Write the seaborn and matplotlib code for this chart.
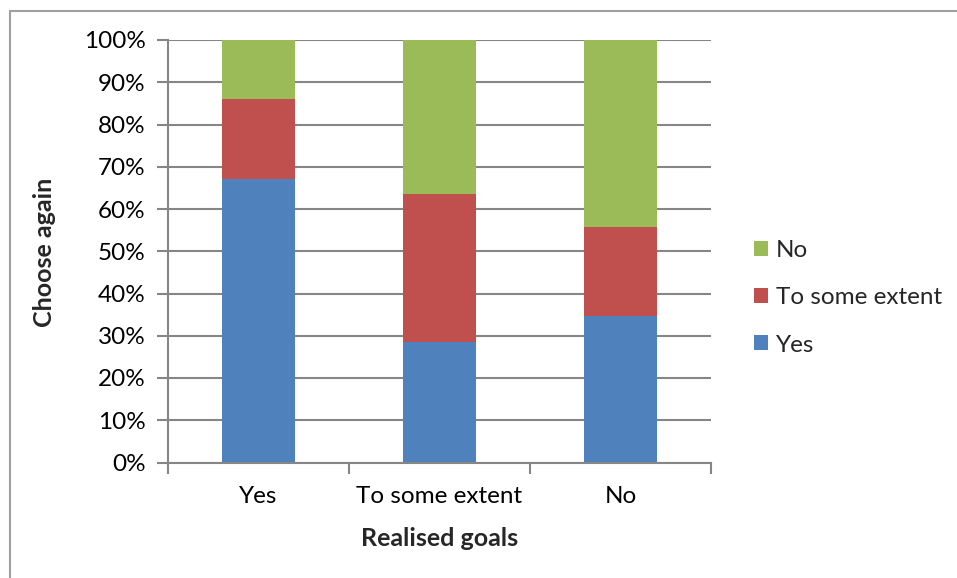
import matplotlib
matplotlib.use("Agg")
import matplotlib.pyplot as plt
import seaborn as sns
import numpy as np
import pandas as pd
from matplotlib.patches import Patch
from matplotlib.lines import Line2D
from matplotlib.ticker import PercentFormatter, FixedLocator

# ---- data ----
categories = ["Yes", "To some extent", "No"]
series_names = ["Yes", "To some extent", "No"]
yes_vals = [67.0, 28.6, 34.6]
some_vals = [19.1, 35.0, 21.2]
no_vals = [13.9, 36.4, 44.2]
y_ticks = [0, 10, 20, 30, 40, 50, 60, 70, 80, 90, 100]
colors = {"Yes": "#4F81BD", "To some extent": "#C0504D", "No": "#9BBB59"}

sns.set_theme(style="white")
plt.rcParams["font.family"] = ["Lato", "DejaVu Sans"]

W, H = 957, 578
FS = 17.5
fig = plt.figure(figsize=(W / 100, H / 100), dpi=100)
ax = fig.add_axes([168 / W, 1 - 462.5 / H, (711 - 168) / W, (462.5 - 40) / H])

df = pd.DataFrame({"cat": categories, "Yes": yes_vals,
                   "To some extent": some_vals, "No": no_vals})
# cumulative tops for stacking
df["top_yes"] = df["Yes"]
df["top_some"] = df["Yes"] + df["To some extent"]
df["top_no"] = df["top_some"] + df["No"]

for col, name in [("top_no", "No"), ("top_some", "To some extent"), ("top_yes", "Yes")]:
    sns.barplot(data=df, x="cat", y=col, order=categories, color=colors[name],
                width=0.4, saturation=1, edgecolor="none", linewidth=0, ax=ax, zorder=3)

ax.set_xlim(-0.5, 2.5)
ax.set_ylim(0, 100)
ax.set_yticks(y_ticks)
ax.yaxis.set_major_formatter(PercentFormatter(decimals=0))
ax.set_axisbelow(True)
ax.yaxis.grid(True, color="#868686", linewidth=1.5, zorder=0)
ax.xaxis.grid(False)

for s in ["top", "right"]:
    ax.spines[s].set_visible(False)
for s in ["left", "bottom"]:
    ax.spines[s].set_color("#868686")
    ax.spines[s].set_linewidth(1.5)
    ax.spines[s].set_zorder(4)

ax.xaxis.set_minor_locator(FixedLocator([-0.5, 0.5, 1.5, 2.5]))
ax.tick_params(axis="x", which="major", length=0, pad=17, labelsize=FS, colors="black")
ax.tick_params(axis="x", which="minor", length=8, width=1.5, color="#868686", direction="out", bottom=True)
ax.tick_params(axis="y", which="major", length=8, width=1.5, color="#868686", direction="out",
               left=True, pad=8, labelsize=FS, labelcolor="black")
ax.set_xlabel("")
ax.set_ylabel("")

fig.text(45 / W, 1 - 252 / H, "Choose again", rotation=90, ha="center", va="center",
         fontsize=18, fontweight="bold")
fig.text(440 / W, 1 - 538 / H, "Realised goals", ha="center", va="center",
         fontsize=18, fontweight="bold")

handles = [Patch(facecolor=colors[n], edgecolor="none") for n in ["No", "To some extent", "Yes"]]
fig.legend(handles, ["No", "To some extent", "Yes"], loc="center left",
           bbox_to_anchor=(754 / W, 1 - 298 / H), frameon=False, fontsize=FS,
           handlelength=0.58, handleheight=0.58, handletextpad=0.33,
           labelspacing=1.07, borderpad=0, borderaxespad=0)

# outer chart frame
fig.add_artist(Line2D([10 / W, 10 / W], [-0.01, 1 - 11 / H], transform=fig.transFigure,
                      color="#A0A0A0", linewidth=1.5))
fig.add_artist(Line2D([10 / W, 1.01], [1 - 11 / H, 1 - 11 / H], transform=fig.transFigure,
                      color="#A0A0A0", linewidth=1.5))

fig.savefig("out.png", dpi=100)
